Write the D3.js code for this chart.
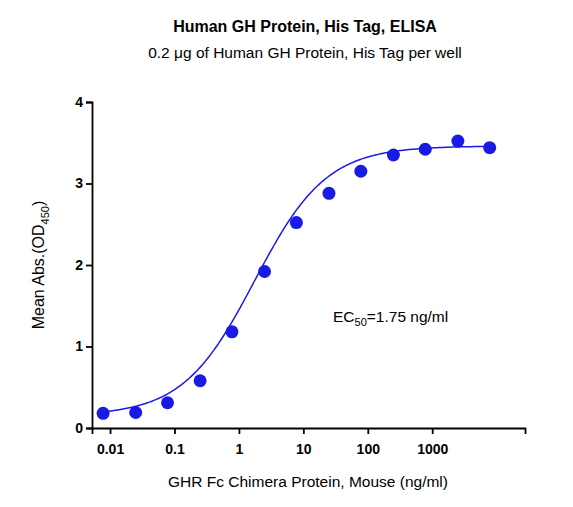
<!DOCTYPE html>
<html><head><meta charset="utf-8">
<script src="https://cdn.jsdelivr.net/npm/d3@7"></script>
<style>body{margin:0;background:#fff}text{font-family:"Liberation Sans",Arial,sans-serif}</style>
</head><body><div id="main"></div>
<script>
// concentrations (ng/ml) and mean OD450
var conc=[0.0078,0.025,0.078,0.25,0.78,2.5,7.8,25,78,250,780,2500,7800];
var od=[0.18,0.19,0.31,0.58,1.18,1.92,2.52,2.88,3.15,3.35,3.42,3.52,3.44];
var xTicks=[0.01,0.1,1,10,100,1000];
var yTicks=[0,1,2,3,4];
// 4PL fit shown on the chart
var fit={bottom:0.15,top:3.46,ec50:1.75,hill:0.78};

var width=573,height=507;
var blue='#1a1ae6';
var svg=d3.select('#main').append('svg').attr('width',width).attr('height',height);

var x=d3.scaleLog().domain([Math.pow(10,-2.28),Math.pow(10,4.44)]).range([92,525]);
var y=d3.scaleLinear().domain([0,4]).range([428,102]);

svg.append('text').attr('x',305).attr('y',32).attr('text-anchor','middle')
  .style('font-weight','bold').style('font-size','16px').text('Human GH Protein, His Tag, ELISA');
svg.append('text').attr('x',305).attr('y',58).attr('text-anchor','middle')
  .style('font-size','15.5px').text('0.2 \u03bcg of Human GH Protein, His Tag per well');

var xAxis=svg.append('g').attr('transform','translate(0,428)')
  .call(d3.axisBottom(x).tickValues(xTicks).tickFormat(d3.format('~g')).tickSize(6));
var yAxis=svg.append('g').attr('transform','translate(92,0)')
  .call(d3.axisLeft(y).tickValues(yTicks).tickFormat(d3.format('d')).tickSize(6));
[xAxis,yAxis].forEach(function(a){
  a.select('.domain').attr('stroke-width',1.8);
  a.selectAll('.tick line').attr('stroke-width',1.8);
  a.selectAll('text').style('font-size','14px').style('font-weight','bold').style('font-family','"Liberation Sans",Arial,sans-serif');
});
xAxis.selectAll('text').attr('dy','1.2em');

svg.append('text').attr('x',308).attr('y',487).attr('text-anchor','middle')
  .style('font-size','15.5px').text('GHR Fc Chimera Protein, Mouse (ng/ml)');
var yl=svg.append('text').attr('transform','translate(44,265) rotate(-90)').attr('text-anchor','middle').style('font-size','16px');
yl.append('tspan').text('Mean Abs.(OD');
yl.append('tspan').attr('dy',5).style('font-size','11px').text('450');
yl.append('tspan').attr('dy',-5).text(')');

var curveX=d3.range(-2.2,3.9,0.02).map(function(l){return Math.pow(10,l)});
svg.append('path').datum(curveX)
  .attr('d',d3.line().x(function(d){return x(d)})
    .y(function(d){return y(fit.bottom+(fit.top-fit.bottom)/(1+Math.pow(fit.ec50/d,fit.hill)))}))
  .attr('fill','none').attr('stroke',blue).attr('stroke-width',1.5);

svg.selectAll('circle').data(conc).enter().append('circle')
  .attr('cx',function(d){return x(d)}).attr('cy',function(d,i){return y(od[i])})
  .attr('r',6.5).attr('fill',blue);

var ec=svg.append('text').attr('x',333).attr('y',322).style('font-size','15.5px');
ec.append('tspan').text('EC');
ec.append('tspan').attr('dy',4).style('font-size','11px').text('50');
ec.append('tspan').attr('dy',-4).text('=1.75 ng/ml');
</script></body></html>
